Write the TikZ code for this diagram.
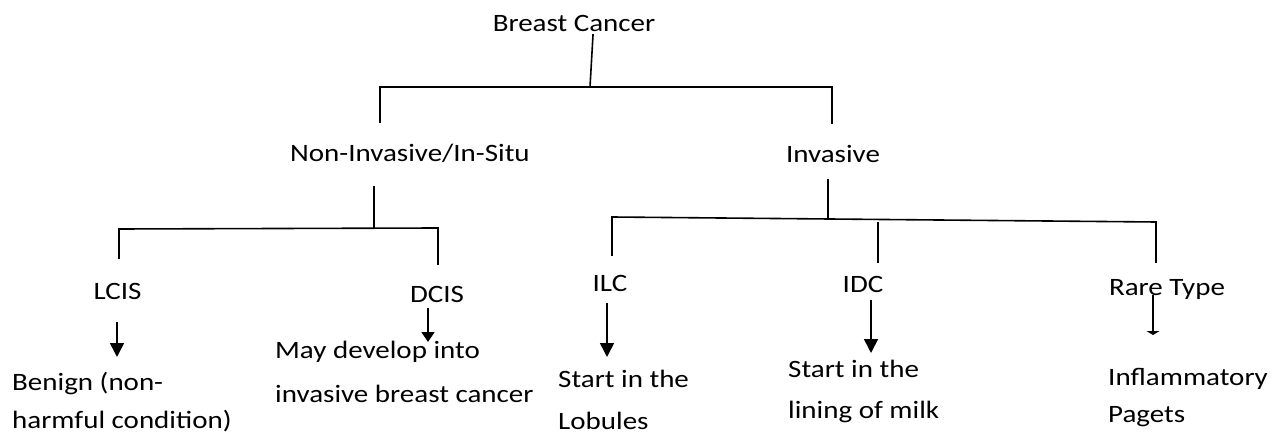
\documentclass[tikz,border=0pt]{standalone}
\usepackage{fontspec}
\setmainfont{Carlito}[FakeStretch=1.16]
\usetikzlibrary{arrows.meta}
\newcommand{\twoln}[3]{\vtop{\baselineskip=#1pt\hbox{#2}\hbox{#3}}}
\tikzset{
  lbl/.style={inner sep=0pt, anchor=base, font=\fontsize{25}{30}\selectfont},
  lblw/.style={inner sep=0pt, anchor=base west, font=\fontsize{25}{30}\selectfont},
  tree/.style={line width=1.6pt, line cap=rect},
  arr/.style={line width=1.6pt, -{Triangle[length=14pt,width=14pt]}},
  flatarr/.style={line width=1.6pt, -{Triangle[length=4pt,width=13pt]}}
}
\begin{document}
\begin{tikzpicture}[x=1pt,y=-1pt]
\useasboundingbox (0,0) rectangle (1281,435);
% labels
\node[lbl] (bc) at (574,32) {Breast Cancer};
\node[lbl] (ni) at (410,162) {Non-Invasive/In-Situ};
\node[lbl] (inv) at (833,163) {Invasive};
\node[lbl] (lcis) at (117.5,300) {LCIS};
\node[lbl] (dcis) at (437,302) {DCIS};
\node[lbl] (ilc) at (610,292) {ILC};
\node[lbl] (idc) at (863,293) {IDC};
\node[lbl] (rare) at (1167,295) {Rare Type};
\node[lblw] (benign) at (12,390) {\twoln{38}{Benign (non-}{harmful condition)}};
\node[lblw] (may) at (275,358) {\twoln{44}{May develop into}{invasive breast cancer}};
\node[lblw] (lob) at (558,387) {\twoln{42}{Start in the}{Lobules}};
\node[lblw] (lin) at (788,377) {\twoln{41}{Start in the}{lining of milk}};
\node[lblw] (infl) at (1108,385) {\twoln{37}{Inflammatory}{Pagets}};
% junction coordinates
\coordinate (bcA) at (593,35);
\coordinate (bcB) at (590,87);
\coordinate (tL) at (380,87);
\coordinate (tR) at (832,87);
\coordinate (tLd) at (380,122);
\coordinate (tRd) at (832,123);
\coordinate (niA) at (374,187);
\coordinate (niB) at (374,228.5);
\coordinate (nL) at (119,229);
\coordinate (nR) at (438,228);
\coordinate (nLd) at (119,258);
\coordinate (nRd) at (438,264);
\coordinate (lcA) at (117,322);
\coordinate (lcB) at (117,357);
\coordinate (dcA) at (428,308);
\coordinate (dcB) at (428,342);
\coordinate (invA) at (828,180);
\coordinate (invB) at (828,219);
\coordinate (iL) at (612,217);
\coordinate (iR) at (1156,222);
\coordinate (iLd) at (612,255);
\coordinate (iMt) at (878,223);
\coordinate (iMd) at (878,262);
\coordinate (iRd) at (1156,262);
\coordinate (ilA) at (607,303);
\coordinate (ilB) at (607,357);
\coordinate (idA) at (871,300);
\coordinate (idB) at (871,353);
\coordinate (raA) at (1153,295);
\coordinate (raB) at (1153,335);
% tree lines
\draw[tree] (bcA) -- (bcB);
\draw[tree] (tLd) -- (tL) -- (tR) -- (tRd);
\draw[tree] (niA) -- (niB);
\draw[tree] (nLd) -- (nL) -- (nR) -- (nRd);
\draw[tree] (invA) -- (invB);
\draw[tree] (iLd) -- (iL) -- (iR) -- (iRd);
\draw[tree] (iMt) -- (iMd);
% arrows
\draw[arr] (lcA) -- (lcB);
\draw[line width=1.6pt, -{Triangle[length=10pt,width=13pt]}] (dcA) -- (dcB);
\draw[arr] (ilA) -- (ilB);
\draw[arr] (idA) -- (idB);
\draw[flatarr] (raA) -- (raB);
\end{tikzpicture}
\end{document}
